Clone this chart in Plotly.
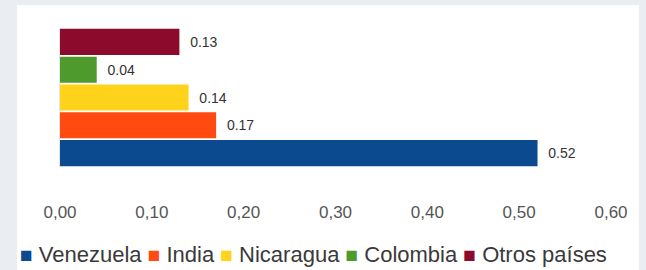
import plotly.graph_objects as go

# ---- data ----
countries = ["Venezuela", "India", "Nicaragua", "Colombia", "Otros países"]
values = [0.52, 0.17, 0.14, 0.04, 0.13]
colors = ["#0b4a8f", "#ff4a10", "#ffd21c", "#4f9a2c", "#8c0a2c"]
tick_vals = [0.0, 0.1, 0.2, 0.3, 0.4, 0.5, 0.6]
tick_text = ["0,00", "0,10", "0,20", "0,30", "0,40", "0,50", "0,60"]
labels = [f"{v:.2f}" for v in values]

W, H = 646, 270
L, R, T, B = 60, 35, 28, 103
pw = W - L - R
ph = H - T - B

fig = go.Figure()
fig.add_trace(go.Bar(
    x=values, y=countries, orientation="h",
    marker=dict(color=colors, line=dict(width=0)),
    text=labels, texttemplate="\u00a0\u00a0%{text}",
    textposition="outside", cliponaxis=False,
    textfont=dict(family="Liberation Sans, Arial", size=14, color="#333333"),
    showlegend=False, hoverinfo="skip",
))

# white panel
def px2x(px):
    return (px - L) / pw

def py2y(py):
    return (H - B - py) / ph

fig.add_shape(type="rect", xref="paper", yref="paper",
              x0=px2x(17), x1=px2x(639), y0=py2y(272), y1=py2y(5),
              fillcolor="white", line=dict(width=0), layer="below")

# legend as text
parts = []
for name, col in zip(countries, colors):
    parts.append(f"<span style='color:{col};font-size:21px'>■</span> {name}")
legend_text = " ".join(parts)
fig.add_annotation(xref="paper", yref="paper", x=px2x(18), y=py2y(254),
                   xanchor="left", yanchor="middle", showarrow=False,
                   text=legend_text,
                   font=dict(family="Liberation Sans, Arial", size=22, color="#3a3a3a"))

fig.update_layout(
    width=W, height=H,
    margin=dict(l=L, r=R, t=T, b=B, pad=0),
    paper_bgcolor="#eaeef2", plot_bgcolor="rgba(0,0,0,0)",
    bargap=0.06,
    font=dict(family="Liberation Sans, Arial"),
)
fig.update_xaxes(range=[0, 0.6], tickvals=tick_vals, ticktext=tick_text,
                 showgrid=False, zeroline=False, showline=False, ticks="",
                 ticklabelstandoff=33, automargin=False,
                 tickfont=dict(size=17, color="#555555"))
fig.update_yaxes(range=[-0.5, 4.5], showticklabels=False, showgrid=False,
                 zeroline=False, showline=True, linecolor="#e4e6e8", linewidth=1,
                 ticks="", automargin=False)

fig.write_html("out.html", config={"displayModeBar": False},
               post_script="document.body.style.margin='0';document.body.style.overflow='hidden';")
